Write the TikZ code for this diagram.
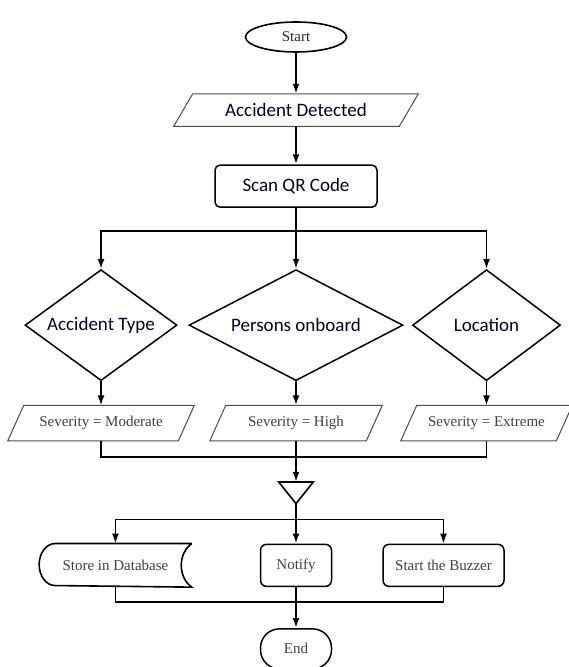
\documentclass[tikz,border=0pt]{standalone}
\usepackage{fontspec}
\setmainfont{Liberation Serif}
\newfontfamily\calibri{Carlito}
\usepackage{tikz}
\usetikzlibrary{shapes,arrows,positioning,calc,arrows.meta}

\begin{document}
\begin{tikzpicture}[x=1pt, y=1pt, >={Latex[length=10pt,width=7pt]}, line width=1.6pt,
	serif/.style={font=\fontsize{15}{18}\selectfont, text=black!75},
	sans/.style={font=\calibri\fontsize{19}{22}\selectfont, text=black!85!blue},
	io/.style={rectangle, minimum height=34pt, inner sep=0pt},
	decision/.style={diamond, draw, line width=1.5pt, minimum height=111pt, inner sep=0pt, sans},
	process/.style={rectangle, rounded corners=6pt, draw, line width=1.5pt, inner sep=0pt},
	spine/.style={->, line width=2.2pt}]
	
	\useasboundingbox (0,0) rectangle (569,667);
	
	\node [ellipse, draw, minimum width=101pt, minimum height=30pt, inner sep=0pt, serif, text=black!85] (start) at (296,630) {Start};
	\node [io, sans, minimum width=224pt, minimum height=31pt] (detected) [below=41pt of start] {Accident Detected};
	\node [process, sans, minimum width=162pt, minimum height=42pt, rounded corners=5pt] (scan) [below=38pt of detected] {Scan QR Code};
	
	\node [decision, minimum width=214pt, aspect=1.93] (persons) [below=61pt of scan] {Persons onboard};
	\node [decision, minimum width=152pt, aspect=1.37] (acctype) [left=10.5pt of persons] {Accident Type};
	\node [decision, minimum width=148pt, aspect=1.33] (location) [right=8pt of persons] {Location};
	
	\node [io, serif, minimum width=155pt] (high) [below=24pt of persons] {Severity = High};
	\node [io, serif, minimum width=169pt] (moderate) [below=24pt of acctype] {Severity = Moderate};
	\node [io, serif, minimum width=154pt] (extreme) [below=24pt of location] {Severity = Extreme};
	
	\foreach \n/\s in {detected/9.5, moderate/8, high/8, extreme/8}
		\draw [draw=black!70, line width=1pt] ([xshift=\s pt]\n.north west) -- ([xshift=\s pt]\n.north east) -- ([xshift=-\s pt]\n.south east) -- ([xshift=-\s pt]\n.south west) -- cycle;
	
	\node [minimum width=33pt, minimum height=20pt, inner sep=0pt] (merge) [below=41pt of high] {};
	\draw (merge.north west) -- (merge.north east) -- (merge.south) -- cycle;
	
	\node [process, serif, minimum width=71pt, minimum height=42pt] (notify) [below=40pt of merge] {Notify};
	\node [minimum width=151pt, minimum height=42pt, inner sep=0pt, serif] (store) [left=68pt of notify] {Store in Database};
	\node [process, serif, minimum width=121pt, minimum height=42pt] (buzzer) [right=50pt of notify] {Start the Buzzer};
	\node [process, serif, minimum width=71pt, minimum height=40pt, rounded corners=19pt] (finish) [below=41pt of notify] {End};
	
	\draw (store.north east) -- ([xshift=16pt]store.north west) arc [start angle=90, end angle=270, x radius=16pt, y radius=21pt] -- (store.south east) .. controls ([xshift=-14pt,yshift=10pt]store.south east) and ([xshift=-14pt,yshift=-10pt]store.north east) .. (store.north east);
	
	\draw [spine] (start) -- (detected);
	\draw [spine] (detected) -- (scan);
	\draw [spine] (scan) -- (persons);
	
	\coordinate (split) at ($(scan.south)+(0,-23pt)$);
	\draw [->] (split) -| (acctype.north);
	\draw [->] (split) -| (location.north);
	
	\draw [->] (acctype) -- (moderate);
	\draw [spine] (persons) -- (high);
	\draw [->] (location) -- (extreme);
	
	\coordinate (join) at ($(high.south)+(0,-16pt)$);
	\draw (moderate.south) |- (join) -| (extreme.south);
	\draw [spine] (high) -- (merge);
	
	\coordinate (fork) at ($(merge.south)+(0,-16pt)$);
	\draw [spine] (merge.south) -- (notify);
	\draw [->] (fork) -| (store.north);
	\draw [->] (fork) -| (buzzer.north);
	
	\coordinate (gather) at ($(notify.south)+(0,-15pt)$);
	\draw (store.south) |- (gather) -| (buzzer.south);
	\draw [spine] (notify) -- (finish);
\end{tikzpicture}
\end{document}
